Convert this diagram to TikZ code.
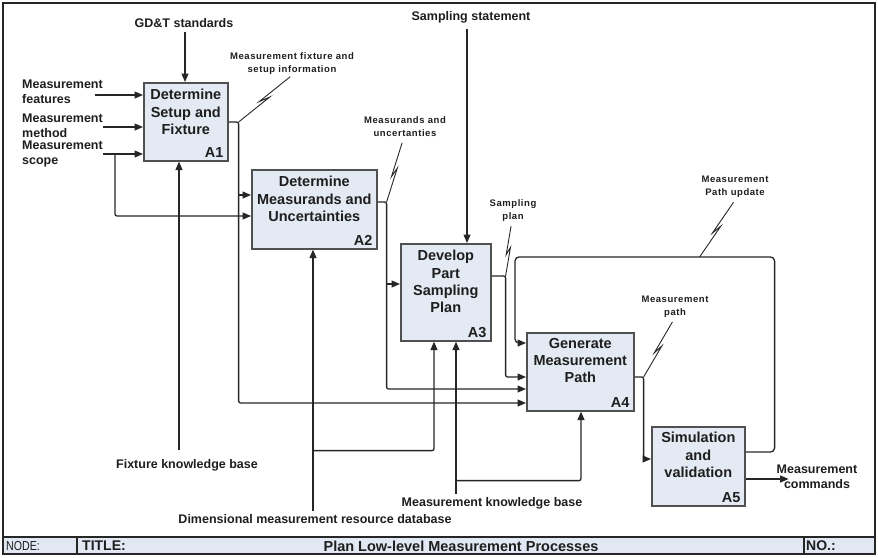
\documentclass[tikz,border=0pt]{standalone}
\usepackage{fontspec}
\setmainfont{Liberation Sans}
\newfontfamily\smallfont[LetterSpace=6]{Liberation Sans}
\newfontfamily\narrowfont[FakeStretch=0.82]{Liberation Sans}
\usetikzlibrary{arrows.meta,calc}
\definecolor{boxfill}{HTML}{E4EAF4}
\definecolor{boxline}{HTML}{505050}
\definecolor{linec}{HTML}{262626}
\definecolor{barfill}{HTML}{E1E8F3}
\definecolor{txt}{HTML}{1E1E1E}
\newcommand\squig[2]{\draw[lead] (#1) -- ($(#1)!0.58!(#2)$) -- ($(#1)!0.42!(#2)!3pt!90:(#2)$) -- ($(#2)!3pt!-90:(#1)$);}
\begin{document}
\begin{tikzpicture}[x=1pt,y=-1pt,
  box/.style={draw=boxline,line width=1.6pt,fill=boxfill,anchor=north west,inner sep=0pt},
  btxt/.style={anchor=north,inner sep=0pt,align=center,text=txt,font=\bfseries\fontsize{14.5}{17.3}\selectfont},
  alab/.style={anchor=base east,inner sep=0pt,text=txt,font=\bfseries\fontsize{14.5}{17}\selectfont},
  arr/.style={draw=linec,line width=1.3pt,-{Triangle[length=8.5pt,width=7pt]},rounded corners=2pt},
  lbl/.style={inner sep=0pt,text=txt,font=\bfseries\fontsize{12.5}{15}\selectfont},
  sm/.style={inner sep=0pt,align=center,text=txt,font=\smallfont\bfseries\fontsize{9.5}{13}\selectfont},
  lead/.style={draw=linec,line width=0.9pt},
  frame/.style={draw=linec,line width=1.2pt}]
\useasboundingbox (0,0) rectangle (878,557);
% title bar and frame
\fill[barfill] (3,537) rectangle (875,554);
\draw[frame] (3,3) rectangle (875,554);
\draw[frame,line width=1.8pt] (3,537) -- (875,537);
\draw[frame,line width=1.5pt] (77,537) -- (77,554);
\draw[frame,line width=1.5pt] (804,537) -- (804,554);
\node[anchor=west,inner sep=0pt,text=txt,font=\narrowfont\fontsize{13}{14}\selectfont] (tnode) at (6,546) {NODE:};
\node[anchor=west,inner sep=0pt,text=txt,font=\bfseries\fontsize{14}{15}\selectfont] (ttitle) at (82,546) {TITLE:};
\node[inner sep=0pt,text=txt,font=\bfseries\fontsize{14.5}{15}\selectfont] (tmain) at (461,546) {Plan Low-level Measurement Processes};
\node[anchor=west,inner sep=0pt,text=txt,font=\bfseries\fontsize{14}{15}\selectfont] (tno) at (806,546) {NO.:};
% boxes
\node[box,minimum width=84,minimum height=78] (A1) at (143,82) {};
\node[box,minimum width=125,minimum height=79] (A2) at (251,169) {};
\node[box,minimum width=90,minimum height=97] (A3) at (400,243) {};
\node[box,minimum width=107,minimum height=78] (A4) at (526,332) {};
\node[box,minimum width=93,minimum height=79] (A5) at (651,426) {};
\node[btxt] (A1t) at ($(A1.north)+(0,7)$) {Determine\\Setup and\\Fixture};
\node[btxt] (A2t) at ($(A2.north)+(0,7)$) {Determine\\Measurands and\\Uncertainties};
\node[btxt] (A3t) at ($(A3.north)+(0,7)$) {Develop\\Part\\Sampling\\Plan};
\node[btxt] (A4t) at ($(A4.north)+(0,6)$) {Generate\\Measurement\\Path};
\node[btxt] (A5t) at ($(A5.north)+(0,6)$) {Simulation\\and\\validation};
\node[alab] (A1n) at ($(A1.south east)+(-5,-4)$) {A1};
\node[alab] (A2n) at ($(A2.south east)+(-5,-4)$) {A2};
\node[alab] (A3n) at ($(A3.south east)+(-5,-4)$) {A3};
\node[alab] (A4n) at ($(A4.south east)+(-5,-4)$) {A4};
\node[alab] (A5n) at ($(A5.south east)+(-5,-4)$) {A5};
% ports
\coordinate (A1top) at ($(A1.north west)+(42,0)$);
\coordinate (A1bot) at ($(A1.south west)+(36,0)$);
\coordinate (A1i1) at ($(A1.north west)+(0,13)$);
\coordinate (A1i2) at ($(A1.north west)+(0,45)$);
\coordinate (A1i3) at ($(A1.north west)+(0,72)$);
\coordinate (A1o) at ($(A1.north east)+(0,40)$);
\coordinate (A2i1) at ($(A2.north west)+(0,26)$);
\coordinate (A2i2) at ($(A2.north west)+(0,47)$);
\coordinate (A2o) at ($(A2.north east)+(0,33)$);
\coordinate (A2bot) at ($(A2.south west)+(62,0)$);
\coordinate (A3top) at ($(A3.north west)+(67,0)$);
\coordinate (A3i) at ($(A3.north west)+(0,41)$);
\coordinate (A3o) at ($(A3.north east)+(0,33)$);
\coordinate (A3b1) at ($(A3.south west)+(34,0)$);
\coordinate (A3b2) at ($(A3.south west)+(56,0)$);
\coordinate (A4i1) at ($(A4.north west)+(0,11)$);
\coordinate (A4i2) at ($(A4.north west)+(0,45)$);
\coordinate (A4i3) at ($(A4.north west)+(0,57)$);
\coordinate (A4i4) at ($(A4.north west)+(0,71)$);
\coordinate (A4o) at ($(A4.north east)+(0,45)$);
\coordinate (A4bot) at ($(A4.south west)+(55,0)$);
\coordinate (A5i) at ($(A5.north west)+(0,33)$);
\coordinate (A5o1) at ($(A5.north east)+(0,26)$);
\coordinate (A5o2) at ($(A5.north east)+(0,53)$);
% external labels
\node[lbl] (gdt) at (184,23) {GD\&T standards};
\node[lbl] (ss) at (471,17) {Sampling statement};
\node[lbl,anchor=west,align=left] (mfeat) at (22,91.5) {Measurement\\features};
\node[lbl,anchor=west,align=left] (mmeth) at (22,126) {Measurement\\method};
\node[lbl,anchor=west,align=left] (mscope) at (22,154) {Measurement\\scope};
\node[lbl] (fkb) at (187,465) {Fixture knowledge base};
\node[lbl] (dmr) at (315,519) {Dimensional measurement resource database};
\node[lbl] (mkb) at (492,503) {Measurement knowledge base};
\node[lbl,align=center] (mcmd) at (817,476.5) {Measurement\\commands};
% free ends
\coordinate (fs) at (95,95);
\coordinate (ms) at (103,127);
\coordinate (ss3) at (103,154);
\coordinate (sj) at ($(A1i3)+(-28,0)$);
\coordinate (mcend) at ($(A5o2)+(43,0)$);
% controls and mechanisms
\draw[arr] ($(gdt.south -| A1top)+(0,4)$) -- (A1top);
\draw[arr] ($(ss.south -| A3top)+(0,6)$) -- (A3top);
\draw[arr] ($(fkb.north -| A1bot)+(0,-9)$) -- (A1bot);
\draw[arr] ($(dmr.north -| A2bot)+(0,-3)$) -- (A2bot);
\coordinate (dj) at ($(A3b1 -| A2bot)+(0,109)$);
\draw[arr] (dj) -| (A3b1);
\draw[arr] ($(mkb.north -| A3b2)+(0,-3)$) -- (A3b2);
\coordinate (mj) at ($(A3b2)+(0,139)$);
\draw[arr] (mj) -| (A4bot);
% inputs
\draw[arr] (fs) -- (A1i1);
\draw[arr] (ms) -- (A1i2);
\draw[arr] (ss3) -- (A1i3);
\draw[arr] (sj) |- (A2i2);
% A1 output
\coordinate (c1) at ($(A1o)+(10,0)$);
\draw[arr] (A1o) -- (c1) |- (A4i4);
\draw[arr] (c1 |- A2i1) -- (A2i1);
% A2 output
\coordinate (c2) at ($(A2o)+(9,0)$);
\draw[arr] (A2o) -- (c2) |- (A4i3);
\draw[arr] (c2 |- A3i) -- (A3i);
% A3 output
\coordinate (c3) at ($(A3o)+(14,0)$);
\draw[arr] (A3o) -- (c3) |- (A4i2);
% A4 output
\coordinate (c4) at ($(A4o)+(9,0)$);
\draw[arr] (A4o) -- (c4) |- (A5i);
% A5 outputs
\coordinate (loopR) at ($(A5o1)+(29,-195)$);
\coordinate (loopL) at ($(A4i1)+(-11,-86)$);
\draw[arr,rounded corners=4pt] (A5o1) -| (loopR) -- (loopL) |- (A4i1);
\draw[arr] (A5o2) -- (mcend);
% leader labels
\node[sm] (lfix) at (292,64) {Measurement fixture and\\setup information};
\node[sm] (lmu) at (405,126.5) {Measurands and\\uncertanties};
\node[sm] (lsp) at (513,210.5) {Sampling\\plan};
\node[sm] (lpu) at (735,187) {Measurement\\Path update};
\node[sm] (lmp) at (675,306.5) {Measurement\\path};
\coordinate (lfixE) at ($(lfix.south)+(0,4)$);
\coordinate (lmuE) at ($(lmu.south)+(0,7)$);
\coordinate (lspE) at ($(lsp.south)+(1,5)$);
\coordinate (lpuE) at ($(lpu.south)+(1,6)$);
\coordinate (lmpE) at ($(lmp.south)+(0,6)$);
\coordinate (lpuS) at ($(loopR)+(-75,0)$);
\squig{c1}{lfixE}
\squig{c2}{lmuE}
\squig{c3}{lspE}
\squig{lpuS}{lpuE}
\squig{c4}{lmpE}
\end{tikzpicture}
\end{document}
